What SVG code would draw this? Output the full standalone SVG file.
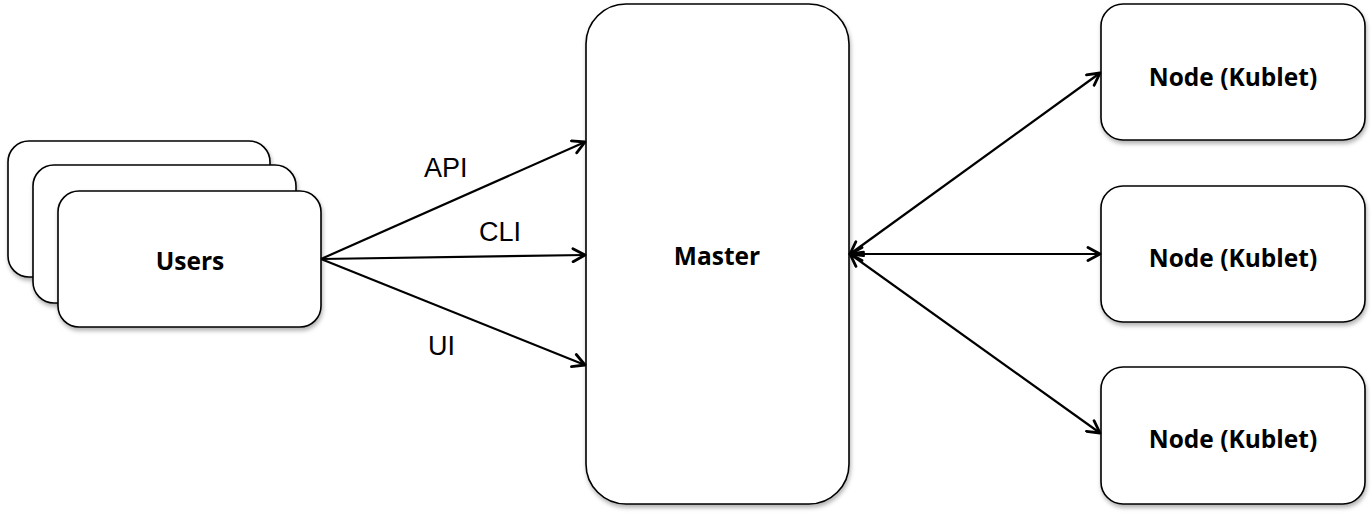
<svg xmlns="http://www.w3.org/2000/svg" width="1372" height="516" viewBox="0 0 1372 516">
<style>
.box{fill:#fff;stroke:#000;stroke-width:1.6;filter:url(#sh)}
.t{font-family:"Open Sans","Liberation Sans",sans-serif;font-weight:bold;font-size:24.5px;text-anchor:middle;fill:#000}
.l{font-family:"Liberation Sans",Arial,sans-serif;font-size:27px;fill:#000}
.c{fill:none;stroke:#000;stroke-width:2.2}
</style>
<defs>
<filter id="sh" x="-10%" y="-10%" width="130%" height="130%">
<feDropShadow dx="1" dy="3" stdDeviation="2" flood-color="#000" flood-opacity="0.3"/>
</filter>
<marker id="ah" viewBox="0 0 16 16" refX="14" refY="8" markerWidth="16" markerHeight="16" markerUnits="userSpaceOnUse" orient="auto-start-reverse">
<path d="M2,1.5 L14,8 L2,14.5" fill="none" stroke="#000" stroke-width="2.8" stroke-linecap="round" stroke-linejoin="round"/>
</marker>
</defs>
<g id="users">
<rect class="box" x="8" y="141" width="262" height="136" rx="21"/>
<rect class="box" x="33" y="165" width="263" height="138" rx="21"/>
<rect class="box" x="58" y="191" width="263" height="136" rx="21"/>
<text class="t" x="190" y="270">Users</text>
</g>
<g id="master">
<rect class="box" x="586" y="4" width="263" height="500" rx="40"/>
<text class="t" x="717" y="265">Master</text>
</g>
<g id="node1">
<rect class="box" x="1101" y="4" width="264" height="136" rx="22"/>
<text class="t" x="1233" y="86">Node (Kublet)</text>
</g>
<g id="node2">
<rect class="box" x="1101" y="186" width="264" height="136" rx="22"/>
<text class="t" x="1233" y="267">Node (Kublet)</text>
</g>
<g id="node3">
<rect class="box" x="1101" y="367" width="264" height="137" rx="22"/>
<text class="t" x="1233" y="448">Node (Kublet)</text>
</g>
<g id="connectors">
<line class="c" x1="321" y1="259" x2="585" y2="142" marker-end="url(#ah)"/>
<line class="c" x1="321" y1="259" x2="585" y2="255" marker-end="url(#ah)"/>
<line class="c" x1="321" y1="259" x2="585" y2="365" marker-end="url(#ah)"/>
<line class="c" x1="850" y1="254" x2="1100" y2="73" marker-start="url(#ah)" marker-end="url(#ah)"/>
<line class="c" x1="850" y1="254" x2="1100" y2="254" marker-start="url(#ah)" marker-end="url(#ah)"/>
<line class="c" x1="850" y1="254" x2="1100" y2="433" marker-start="url(#ah)" marker-end="url(#ah)"/>
<text class="l" x="424" y="177">API</text>
<text class="l" x="479" y="241">CLI</text>
<text class="l" x="428" y="355">UI</text>
</g>
</svg>
